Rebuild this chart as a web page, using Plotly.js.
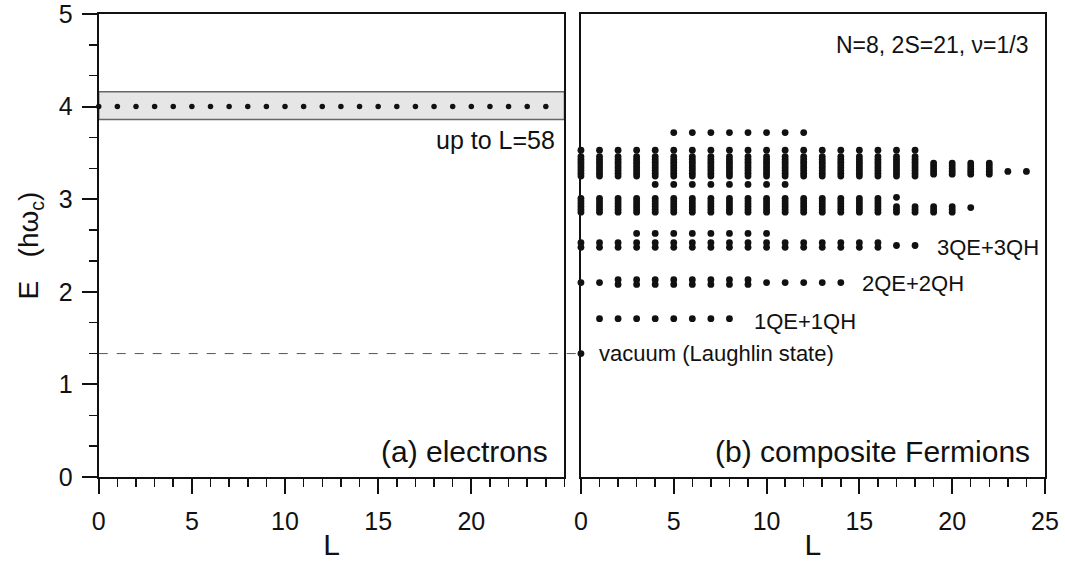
<!DOCTYPE html>
<html>
<head>
<meta charset="utf-8">
<script src="https://cdn.plot.ly/plotly-3.0.1.min.js"></script>
<style>html,body{margin:0;padding:0;background:#fff;}#chart{width:1065px;height:574px;}</style>
</head>
<body>
<div id="chart"></div>
<script>
// ---- Panel (a): electrons ----
const elecL = [0,1,2,3,4,5,6,7,8,9,10,11,12,13,14,15,16,17,18,19,20,21,22,23,24];
const elecE = [4,4,4,4,4,4,4,4,4,4,4,4,4,4,4,4,4,4,4,4,4,4,4,4,4];
const bandLow = 3.86, bandHigh = 4.16;
const vacuumE = 1.333;

// ---- Panel (b): composite Fermions; each group: every L listed has a dot at every E listed ----
const vacL = [0];                         const vacE = [1.333];
const qe1L = [1,2,3,4,5,6,7,8];           const qe1E = [1.71];
const qe2sL = [0,1,10,11,12,13,14];       const qe2sE = [2.10];
const qe2dL = [2,3,4,5,6,7,8,9];          const qe2dE = [2.08,2.13];
const qe3dL = [0,1,2,3,4,5,6,7,8,9,10,11,12,13,14,15,16]; const qe3dE = [2.48,2.53];
const qe3sL = [17,18];                    const qe3sE = [2.50];
const qe3uL = [3,4,5,6,7,8,9,10];         const qe3uE = [2.63];
const b4fL = [0,1,2,3,4,5,6,7,8,9,10,11,12,13,14,15,16]; const b4fE = [2.86,2.89,2.92,2.95,2.98,3.01];
const b4aL = [17];                        const b4aE = [2.86,2.89,2.92,3.02];
const b4bL = [18,19,20];                  const b4bE = [2.86,2.89,2.92];
const b4cL = [21];                        const b4cE = [2.91];
const r316L = [4,5,6,7,8,9,10,11];        const r316E = [3.16];
const b5fL = [0,1,2,3,4,5,6,7,8,9,10,11,12,13,14,15,16,17,18]; const b5fE = [3.25,3.28,3.31,3.34,3.37,3.40,3.43,3.46];
const b5aL = [19,20,21,22];               const b5aE = [3.27,3.30,3.33,3.36,3.39];
const b5bL = [23,24];                     const b5bE = [3.30];
const r353L = [0,1,2,3,4,5,6,7,8,9,10,11,12,13,14,15,16,17,18]; const r353E = [3.53];
const r372L = [5,6,7,8,9,10,11,12];       const r372E = [3.72];

const groups = [
  [vacL,vacE],[qe1L,qe1E],[qe2sL,qe2sE],[qe2dL,qe2dE],[qe3dL,qe3dE],[qe3sL,qe3sE],[qe3uL,qe3uE],
  [b4fL,b4fE],[b4aL,b4aE],[b4bL,b4bE],[b4cL,b4cE],[r316L,r316E],
  [b5fL,b5fE],[b5aL,b5aE],[b5bL,b5bE],[r353L,r353E],[r372L,r372E]
];
const cfL = [], cfE = [];
groups.forEach(([Ls,Es]) => { Ls.forEach(l => Es.forEach(e => { cfL.push(l); cfE.push(e); })); });

const FONT = 'Liberation Sans, Arial, Helvetica, sans-serif';
const INK = '#111';

const traces = [
  {x: elecL, y: elecE, xaxis:'x', yaxis:'y', mode:'markers', type:'scatter',
   marker:{size:5.5, color:INK}, hoverinfo:'skip', cliponaxis:false},
  {x: cfL, y: cfE, xaxis:'x2', yaxis:'y2', mode:'markers', type:'scatter',
   marker:{size:6.8, color:INK}, hoverinfo:'skip', cliponaxis:false}
];

const xCommon = {
  range:[0,25], ticks:'outside', ticklen:15, tickwidth:2, tickcolor:INK,
  showline:true, linewidth:2, linecolor:INK, mirror:true, showgrid:false, zeroline:false,
  tickfont:{size:25, color:INK, family:FONT}, ticklabelstandoff:6, ticklabeloverflow:'allow',
  title:{text:'L', font:{size:30, color:INK, family:FONT}, standoff:0},
  minor:{dtick:1, tick0:0, ticks:'outside', ticklen:8, tickwidth:1.5, tickcolor:INK, showgrid:false}
};

const layout = {
  width:1065, height:574, margin:{l:0,r:0,t:0,b:0}, showlegend:false,
  paper_bgcolor:'#fff', plot_bgcolor:'#fff',
  font:{family:FONT, color:INK, size:22},
  xaxis: Object.assign({}, xCommon, {domain:[0.0927,0.5300], anchor:'y', tickvals:[0,5,10,15,20]}),
  xaxis2: Object.assign({}, xCommon, {domain:[0.5455,0.9812], anchor:'y2', tickvals:[0,5,10,15,20,25]}),
  yaxis: {
    domain:[0.169,0.9756], anchor:'x', range:[0,5], tickvals:[0,1,2,3,4,5],
    ticks:'outside', ticklen:15, tickwidth:2, tickcolor:INK,
    showline:true, linewidth:2, linecolor:INK, mirror:true, showgrid:false, zeroline:false,
    tickfont:{size:25, color:INK, family:FONT}, ticklabelstandoff:4, ticklabeloverflow:'allow',
    title:{text:'E   (hω<sub>c</sub>)', font:{size:28, color:INK, family:FONT}, standoff:12},
    minor:{dtick:1/3, tick0:0, ticks:'outside', ticklen:8, tickwidth:1.5, tickcolor:INK, showgrid:false}
  },
  yaxis2: {
    domain:[0.169,0.9756], anchor:'x2', range:[0,5], showticklabels:false, ticks:'',
    showline:true, linewidth:2, linecolor:INK, mirror:true, showgrid:false, zeroline:false
  },
  shapes: [
    {type:'rect', xref:'x', yref:'y', x0:0, x1:25, y0:bandLow, y1:bandHigh,
     fillcolor:'#e6e6e6', line:{color:'#666', width:1.5}, layer:'below'},
    {type:'line', xref:'paper', yref:'y', x0:0.0927, x1:0.5455, y0:vacuumE, y1:vacuumE,
     line:{color:'#555', width:1, dash:'dash'}, layer:'above'}
  ],
  annotations: [
    {xref:'x', yref:'y', x:24.6, y:3.64, text:'up to L=58', showarrow:false, xanchor:'right', yanchor:'middle', font:{size:25, color:INK, family:FONT}},
    {xref:'x', yref:'y', x:24.2, y:0.27, text:'(a) electrons', showarrow:false, xanchor:'right', yanchor:'middle', font:{size:30, color:INK, family:FONT}},
    {xref:'x2', yref:'y2', x:24.3, y:0.27, text:'(b) composite Fermions', showarrow:false, xanchor:'right', yanchor:'middle', font:{size:30, color:INK, family:FONT}},
    {xref:'x2', yref:'y2', x:24.2, y:4.67, text:'N=8, 2S=21, ν=1/3', showarrow:false, xanchor:'right', yanchor:'middle', font:{size:23, color:INK, family:FONT}},
    {xref:'x2', yref:'y2', x:19.1, y:2.48, text:'3QE+3QH', showarrow:false, xanchor:'left', yanchor:'middle', font:{size:22, color:INK, family:FONT}},
    {xref:'x2', yref:'y2', x:15.05, y:2.09, text:'2QE+2QH', showarrow:false, xanchor:'left', yanchor:'middle', font:{size:22, color:INK, family:FONT}},
    {xref:'x2', yref:'y2', x:9.2, y:1.68, text:'1QE+1QH', showarrow:false, xanchor:'left', yanchor:'middle', font:{size:22, color:INK, family:FONT}},
    {xref:'x2', yref:'y2', x:0.87, y:1.33, text:'vacuum (Laughlin state)', showarrow:false, xanchor:'left', yanchor:'middle', font:{size:22, color:INK, family:FONT}}
  ]
};

Plotly.newPlot('chart', traces, layout, {staticPlot:true, displayModeBar:false});
</script>
</body>
</html>
